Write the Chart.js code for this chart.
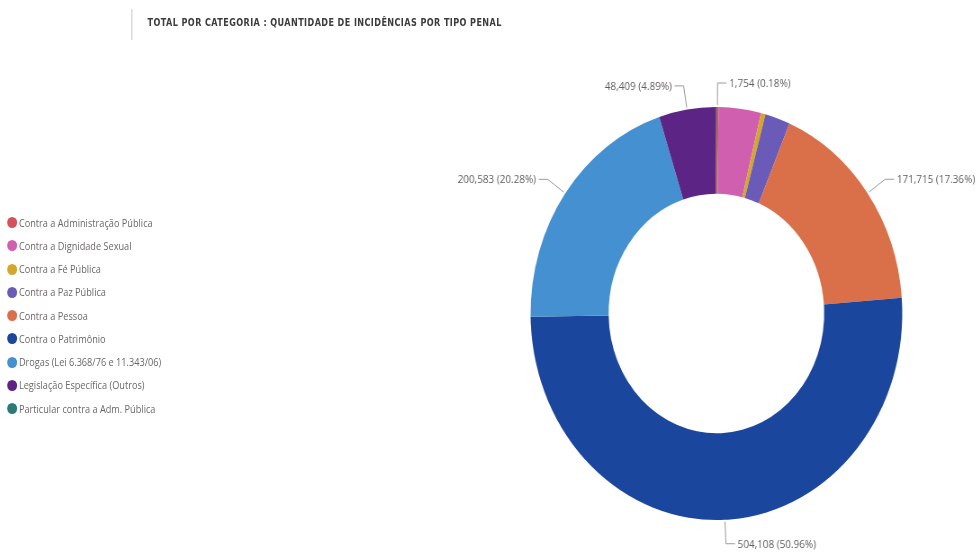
<!DOCTYPE html>
<html lang="pt-BR">
<head>
<meta charset="utf-8">
<title>Total por categoria</title>
<script src="https://cdn.jsdelivr.net/npm/chart.js@4.4.1/dist/chart.umd.min.js"></script>
<style>
    html, body { margin: 0; padding: 0; background: #fff; overflow: hidden; }
    #page {
        position: absolute; left: 0; top: 0;
        width: 1086px; height: 554px;
        transform: scaleX(0.9); transform-origin: 0 0;
    }
    #sep { position: absolute; left: 146px; top: 9px; width: 1px; height: 31px; background: #c4c4c4; }
    #title {
        position: absolute; left: 164px; top: 17px;
        font: bold 10px "DejaVu Sans Condensed", "DejaVu Sans", sans-serif;
        letter-spacing: 0.45px; color: #3c3c3c; white-space: nowrap;
    }
    #legend { position: absolute; left: 8px; top: 211px; margin: 0; padding: 0; list-style: none; }
    #legend li {
        height: 23.25px; display: flex; align-items: center;
        font: 10.2px "Open Sans", sans-serif; color: #6a6866; white-space: nowrap;
    }
    #legend .dot { width: 11px; height: 11px; border-radius: 50%; margin-right: 2px; flex: none; }
    #chart { position: absolute; left: 0; top: 0; }
</style>
</head>
<body>
<div id="page">
    <div id="sep"></div>
    <div id="title">TOTAL POR CATEGORIA : QUANTIDADE DE INCIDÊNCIAS POR TIPO PENAL</div>
    <ul id="legend"></ul>
    <canvas id="chart" width="1086" height="554" style="width:1086px;height:554px"></canvas>
</div>
<script>
const categories = [
    "Contra a Administração Pública",
    "Contra a Dignidade Sexual",
    "Contra a Fé Pública",
    "Contra a Paz Pública",
    "Contra a Pessoa",
    "Contra o Patrimônio",
    "Drogas (Lei 6.368/76 e 11.343/06)",
    "Legislação Específica (Outros)",
    "Particular contra a Adm. Pública"
];
const incidences = [1754, 36400, 3900, 21550, 171715, 504108, 200583, 48409, 800];
const sliceColors = ["#d4505a", "#d05fb0", "#d4a72c", "#6a5bb8", "#da704a", "#1b469e", "#4590d0", "#5c2484", "#2a7a78"];
const showLabel = [true, false, false, false, true, true, true, true, false];

const legend = document.getElementById("legend");
categories.forEach((name, i) => {
    const li = document.createElement("li");
    const dot = document.createElement("span");
    dot.className = "dot";
    dot.style.background = sliceColors[i];
    li.appendChild(dot);
    li.appendChild(document.createTextNode(name));
    legend.appendChild(li);
});

const total = incidences.reduce((a, b) => a + b, 0);

const leaderLabels = {
    id: "leaderLabels",
    afterDatasetsDraw(chart) {
        const ctx = chart.ctx;
        const arcs = chart.getDatasetMeta(0).data;
        ctx.save();
        ctx.strokeStyle = "#9a9a9a";
        ctx.lineWidth = 1;
        ctx.fillStyle = "#605e5c";
        ctx.font = '11px "Open Sans", sans-serif';
        ctx.textBaseline = "middle";
        arcs.forEach((arc, i) => {
            if (!showLabel[i]) return;
            const {x, y, startAngle, endAngle, outerRadius} = arc.getProps(["x", "y", "startAngle", "endAngle", "outerRadius"], true);
            const mid = (startAngle + endAngle) / 2;
            const c = Math.cos(mid), s = Math.sin(mid);
            const dir = c >= 0 ? 1 : -1;
            const x0 = x + (outerRadius + 2) * c, y0 = y + (outerRadius + 2) * s;
            const x1 = x + (outerRadius + 24) * c, y1 = y + (outerRadius + 24) * s;
            const x2 = x1 + 10 * dir;
            ctx.beginPath();
            ctx.moveTo(x0, y0);
            ctx.lineTo(x1, y1);
            ctx.lineTo(x2, y1);
            ctx.stroke();
            const v = incidences[i];
            const txt = v.toLocaleString("en-US") + " (" + (v / total * 100).toFixed(2) + "%)";
            ctx.textAlign = dir > 0 ? "left" : "right";
            ctx.fillText(txt, x2 + 3 * dir, y1 + 1);
        });
        ctx.restore();
    }
};

new Chart(document.getElementById("chart"), {
    type: "doughnut",
    data: {
        labels: categories,
        datasets: [{
            data: incidences,
            backgroundColor: sliceColors,
            borderWidth: 0,
            hoverOffset: 0,
            offset: 0
        }]
    },
    options: {
        responsive: false,
        animation: false,
        events: [],
        cutout: "58%",
        layout: {padding: {left: 589.5, right: 83.5, top: 107, bottom: 34}},
        plugins: {legend: {display: false}, tooltip: {enabled: false}}
    },
    plugins: [leaderLabels]
});
</script>
</body>
</html>
